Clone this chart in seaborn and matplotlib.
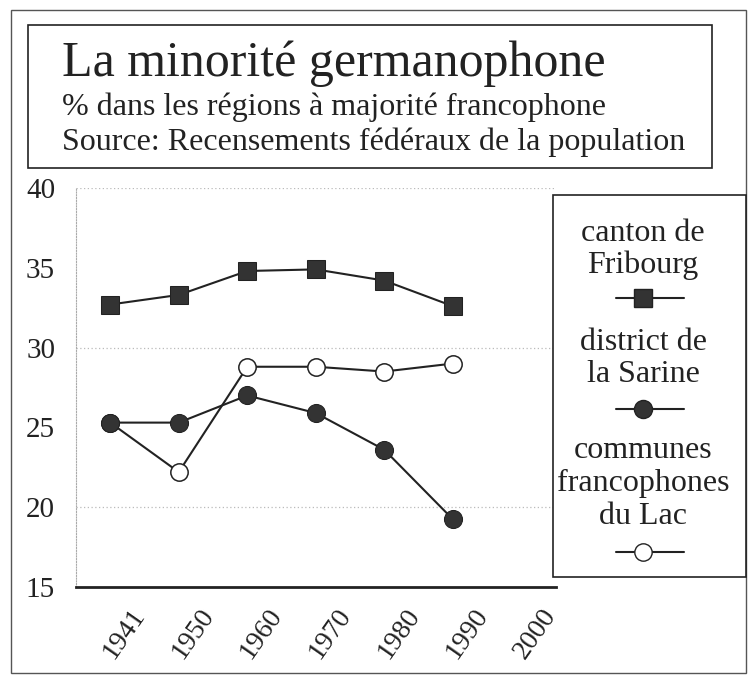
import matplotlib
matplotlib.use("Agg")
import matplotlib.pyplot as plt
import matplotlib.transforms as mtransforms
from matplotlib.patches import Rectangle
from matplotlib.lines import Line2D
import pandas as pd
import seaborn as sns

# data
years = ['1941', '1950', '1960', '1970', '1980', '1990', '2000']
canton = [32.7, 33.3, 34.8, 34.9, 34.2, 32.6]
sarine = [25.3, 25.3, 27.0, 25.9, 23.6, 19.25]
lac = [25.3, 22.2, 28.8, 28.8, 28.5, 29.0]
series = ['canton de\nFribourg', 'district de\nla Sarine', 'communes\nfrancophones\ndu Lac']

sns.set_style("white")
plt.rcParams['font.family'] = ['Liberation Serif', 'DejaVu Serif']
ink = '#222222'
fill = '#333333'

W, H = 749, 675
fig = plt.figure(figsize=(W / 100, H / 100), dpi=100)

def fx(px):
    return px / W

def fy(py):
    return 1 - py / H

ax = fig.add_axes([fx(76), fy(587), fx(555.5) - fx(76), fy(188) - fy(587)])

df = pd.DataFrame({'pos': list(range(len(canton))), 'canton': canton,
                   'sarine': sarine, 'lac': lac})

sns.lineplot(data=df, x='pos', y='lac', ax=ax, color=ink, linewidth=1.5,
             marker='o', markersize=12.5, markerfacecolor='white',
             markeredgecolor=ink, markeredgewidth=1.1)
sns.lineplot(data=df, x='pos', y='sarine', ax=ax, color=ink, linewidth=1.5,
             marker='o', markersize=13, markerfacecolor=fill,
             markeredgecolor=ink)
sns.lineplot(data=df, x='pos', y='canton', ax=ax, color=ink, linewidth=1.5,
             marker='s', markersize=12.5, markerfacecolor=fill,
             markeredgecolor=ink)

ax.set_xlim(-0.5, 6.5)
ax.set_ylim(15, 40)
ax.set_xlabel('')
ax.set_ylabel('')

ax.set_yticks(range(15, 41, 5))
ax.set_yticklabels([str(v) for v in range(15, 41, 5)], fontsize=21, color=ink)
ax.tick_params(axis='y', length=0, pad=15)

ax.set_xticks(range(len(years)))
ax.set_xticklabels(years, fontsize=20, color=ink, rotation=55,
                   ha='right', va='top', rotation_mode='anchor')
ax.tick_params(axis='x', length=0, pad=0)
shift = mtransforms.ScaledTranslation(0.20, -0.17, fig.dpi_scale_trans)
for lab in ax.get_xticklabels():
    lab.set_transform(lab.get_transform() + shift)

for v in [20, 30, 40]:
    ax.axhline(v, color='#bbbbbb', linestyle=(0, (1, 2)), linewidth=0.9, zorder=0)

for s in ['top', 'right']:
    ax.spines[s].set_visible(False)
ax.spines['left'].set_color('#aaaaaa')
ax.spines['left'].set_linestyle((0, (1, 1.5)))
ax.spines['left'].set_linewidth(0.8)
ax.spines['bottom'].set_color(ink)
ax.spines['bottom'].set_linewidth(2)

# outer frame and title box
fig.patches.append(Rectangle((fx(11), fy(673)), fx(746) - fx(11), fy(10) - fy(673),
                             transform=fig.transFigure, fill=False,
                             edgecolor='#555555', linewidth=1))
fig.patches.append(Rectangle((fx(28), fy(168)), fx(712) - fx(28), fy(25) - fy(168),
                             transform=fig.transFigure, fill=False,
                             edgecolor=ink, linewidth=1.2))
fig.text(fx(62), fy(76), 'La minorité germanophone', fontsize=36, color=ink,
         va='baseline', ha='left')
fig.text(fx(62), fy(115), '% dans les régions à majorité francophone',
         fontsize=23, color=ink, va='baseline', ha='left')
fig.text(fx(62), fy(150), 'Source: Recensements fédéraux de la population',
         fontsize=23, color=ink, va='baseline', ha='left')

# legend drawn by hand: label above its handle
fig.patches.append(Rectangle((fx(553), fy(577)), fx(746) - fx(553), fy(195) - fy(577),
                             transform=fig.transFigure, facecolor='white',
                             edgecolor=ink, linewidth=1.2))
lx = 643
text_rows = [[233, 265], [342, 375], [450, 483, 516]]
handle_rows = [298, 409, 552]
styles = [dict(marker='s', markersize=12.5, markerfacecolor=fill),
          dict(marker='o', markersize=13, markerfacecolor=fill),
          dict(marker='o', markersize=12.5, markerfacecolor='white')]
for name, rows, hy, st in zip(series, text_rows, handle_rows, styles):
    for line, ty in zip(name.split('\n'), rows):
        fig.text(fx(lx), fy(ty), line, fontsize=23, color=ink, ha='center', va='center')
    fig.add_artist(Line2D([fx(616), fx(684)], [fy(hy), fy(hy)], color=ink,
                          linewidth=1.5, transform=fig.transFigure))
    fig.add_artist(Line2D([fx(lx)], [fy(hy)], color=ink, markeredgecolor=ink,
                          linestyle='none', transform=fig.transFigure, **st))

fig.savefig('out.png', dpi=100, facecolor='white')
